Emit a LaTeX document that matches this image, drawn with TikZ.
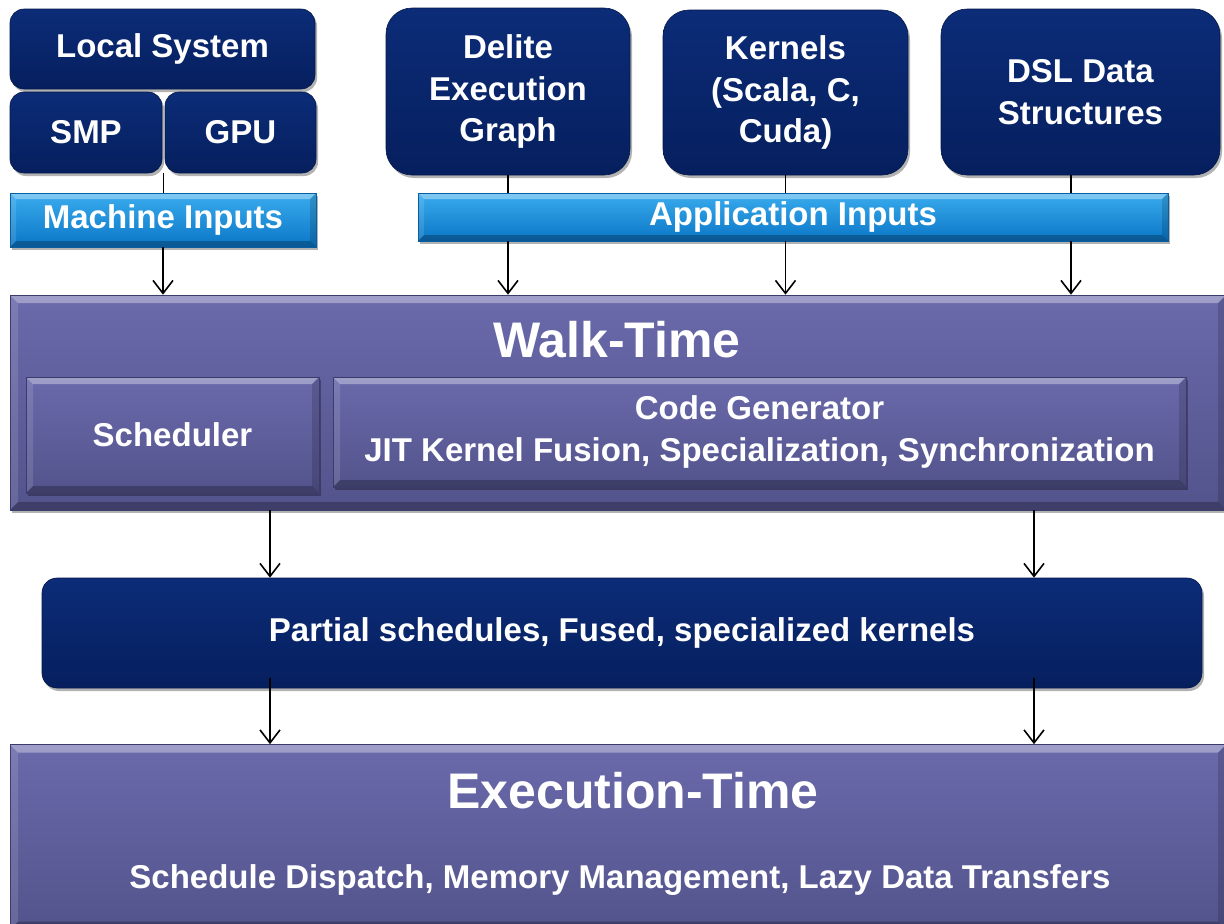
\documentclass[tikz,border=0pt]{standalone}
\usepackage{fontspec}
\setmainfont{Liberation Sans}
\usetikzlibrary{shadows,arrows.meta,calc}
\definecolor{navytop}{HTML}{0C2C78}
\definecolor{navybot}{HTML}{061F5E}
\definecolor{navyedge}{HTML}{041848}
\definecolor{bluetop}{HTML}{3AACEE}
\definecolor{bluebot}{HTML}{0A76C6}
\definecolor{purtop}{HTML}{6A6AAC}
\definecolor{purbot}{HTML}{53538C}
\definecolor{puredge}{HTML}{3C3C6C}
\begin{document}
\begin{tikzpicture}[x=1pt,y=-1pt,
  txt/.style={text=white,font=\bfseries\fontsize{33}{41.5}\selectfont,align=center,inner sep=0pt},
  shad/.style={drop shadow={shadow xshift=2pt,shadow yshift=-3pt,opacity=0.3,fill=black}},
  navybox/.style={txt,shad,rounded corners=#1,top color=navytop,bottom color=navybot,draw=navyedge,line width=0.6pt},
  navybox/.default=14pt,
  bevel/.style={path picture={
    \fill[white,opacity=0.35] (path picture bounding box.north west) -- (path picture bounding box.north east)
      -- ([xshift=-#1,yshift=-#1]path picture bounding box.north east) -- ([xshift=#1,yshift=-#1]path picture bounding box.north west) -- cycle;
    \fill[white,opacity=0.12] (path picture bounding box.north west) -- ([xshift=#1,yshift=-#1]path picture bounding box.north west)
      -- ([xshift=#1,yshift=#1]path picture bounding box.south west) -- (path picture bounding box.south west) -- cycle;
    \fill[black,opacity=0.25] (path picture bounding box.south west) -- (path picture bounding box.south east)
      -- ([xshift=-#1,yshift=#1]path picture bounding box.south east) -- ([xshift=#1,yshift=#1]path picture bounding box.south west) -- cycle;
    \fill[black,opacity=0.15] (path picture bounding box.north east) -- ([xshift=-#1,yshift=-#1]path picture bounding box.north east)
      -- ([xshift=-#1,yshift=#1]path picture bounding box.south east) -- (path picture bounding box.south east) -- cycle;
  }},
  bevel/.default=6pt,
  bluebox/.style={txt,shad,top color=bluetop,bottom color=bluebot,draw=bluebot!80!black,line width=0.5pt,bevel=6pt},
  purbox/.style={txt,shad,top color=purtop,bottom color=purbot,draw=puredge,line width=0.6pt,bevel=#1},
  purbox/.default=7pt,
  conn/.style={line width=1.6pt,black},
  arr/.style={conn,-{Straight Barb[length=13pt,width=20pt,line width=1.6pt]}},
  big/.style={text=white,font=\bfseries\fontsize{50}{54}\selectfont,inner sep=0pt}
]
\useasboundingbox (0,0) rectangle (1224,924);

% top left: machine
\node[navybox, minimum width=305pt, minimum height=80pt] (local) at (162.5,49) {Local System};
\node[navybox, minimum width=152pt, minimum height=81pt] (smp) at (86,132.5) {SMP};
\node[navybox, minimum width=151pt, minimum height=81pt] (gpu) at (240.5,132.5) {GPU};
\node[bluebox, minimum width=306pt, minimum height=54pt] (machine) at (163,220) {Machine Inputs};

% top right: application
\node[navybox=26pt, minimum width=244pt, minimum height=167pt] (delite) at (508,91.5) {Delite\\Execution\\Graph};
\node[navybox=26pt, minimum width=245pt, minimum height=165pt] (kernels) at (785.5,92.5) {Kernels\\(Scala, C,\\Cuda)};
\node[navybox=26pt, minimum width=279pt, minimum height=166pt] (dsl) at (1080.5,92) {DSL Data\\Structures};
\node[bluebox, minimum width=750pt, minimum height=48pt] (app) at (793,217) {Application Inputs};

% walk-time
\node[purbox=8pt, minimum width=1216pt, minimum height=215pt] (walk) at (618,402.5) {};
\node[big] (walktitle) at (617,340) {Walk-Time};
\node[purbox, minimum width=293pt, minimum height=116pt] (sched) at (172.5,435) {Scheduler};
\node[purbox, minimum width=853pt, minimum height=110pt] (codegen) at (759.5,432) {Code Generator\\JIT Kernel Fusion, Specialization, Synchronization};

% partial schedules
\node[navybox=15pt, minimum width=1160pt, minimum height=110pt] (partial) at (622,633) {Partial schedules, Fused, specialized kernels};

% execution-time
\node[purbox=8pt, minimum width=1216pt, minimum height=185pt] (exec) at (618,837) {};
\node[big] (exectitle) at (633,791) {Execution-Time};
\node[txt] (execsub) at (620,880) {Schedule Dispatch, Memory Management, Lazy Data Transfers};

% connectors
\coordinate (mid) at ($(smp.south east)!0.5!(gpu.south west)$);
\draw[conn] (mid) -- (mid |- machine.north);
\draw[arr] (machine.south) -- (machine.south |- walk.north);

\draw[conn] (delite.south) -- (delite.south |- app.north);
\draw[arr] (delite.south |- app.south) -- (delite.south |- walk.north);
\draw[conn] (kernels.south) -- (kernels.south |- app.north);
\draw[arr] (kernels.south |- app.south) -- (kernels.south |- walk.north);
\coordinate (dslx) at ([xshift=-9.5pt]dsl.south);
\draw[conn] (dslx) -- (dslx |- app.north);
\draw[arr] (dslx |- app.south) -- (dslx |- walk.north);

\coordinate (lx) at (270,0);
\coordinate (rx) at (1034,0);
\draw[arr] (walk.south -| lx) -- (partial.north -| lx);
\draw[arr] (walk.south -| rx) -- (partial.north -| rx);
\draw[arr] ([yshift=10pt]partial.south -| lx) -- (exec.north -| lx);
\draw[arr] ([yshift=10pt]partial.south -| rx) -- (exec.north -| rx);
\end{tikzpicture}
\end{document}
